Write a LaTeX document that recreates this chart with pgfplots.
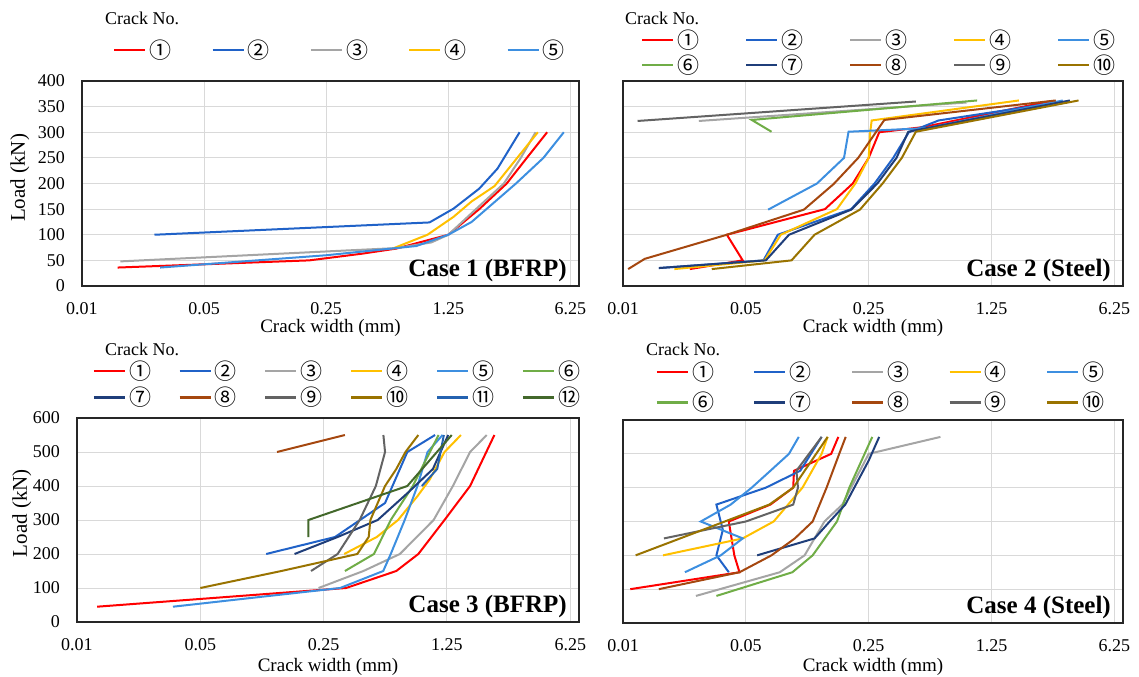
\documentclass[border=0pt]{standalone}
\usepackage{fontspec}
\setmainfont{Liberation Serif}
\newfontfamily\cjk{Noto Sans CJK SC}
\usepackage{pgfplots}
\pgfplotsset{compat=1.18}
\definecolor{c1}{HTML}{FF0000}
\definecolor{c2}{HTML}{2062C8}
\definecolor{c3}{HTML}{A5A5A5}
\definecolor{c4}{HTML}{FFC000}
\definecolor{c5}{HTML}{3D8FE0}
\definecolor{c6}{HTML}{70AD47}
\definecolor{c7}{HTML}{1F3E7A}
\definecolor{c8}{HTML}{A5470F}
\definecolor{c9}{HTML}{636363}
\definecolor{c10}{HTML}{997300}
\definecolor{c11}{HTML}{2462B0}
\definecolor{c12}{HTML}{43682B}
\definecolor{gridc}{HTML}{D9D9D9}
\newcommand\LE[1]{\makebox[22bp][l]{\rule[-2bp]{0pt}{19bp}#1}}
\pgfplotsset{
  mypanel/.style={
    scale only axis, anchor=south west,
    xmin=0.01, xmax=7,
    xtick={0.01,0.05,0.25,1.25,6.25}, xticklabels={0.01,0.05,0.25,1.25,6.25},
    /pgf/number format/assume math mode=true,
    grid=major, major grid style={draw=gridc, line width=1bp},
    axis line style={draw=black!85, line width=1.3bp},
    major tick length=0pt,
    tick label style={font=\fontsize{18bp}{20bp}\selectfont},
    xticklabel style={inner sep=0pt, anchor=north, yshift=-16bp},
    yticklabel style={inner sep=0pt, anchor=east, xshift=-17bp},
    xlabel={Crack width (mm)},
    legend cell align=left,
    legend image code/.code={\draw[##1, line width=2.6bp] (0bp,0bp) -- (31bp,0bp);},
    legend style={draw=none, fill=none, inner sep=0pt, outer sep=0pt, anchor=west,
      font=\cjk\fontsize{22bp}{24bp}\selectfont,
      nodes={inner sep=0pt}, cells={inner sep=0pt},
      /tikz/every odd column/.append style={column sep=3bp}},
    every axis plot/.append style={line width=2bp, no markers, sharp plot},
  },
}
\tikzset{caselab/.style={anchor=south east, inner sep=0pt, xshift=-12bp, yshift=4bp,
    font=\bfseries\fontsize{25bp}{27bp}\selectfont},
  cn/.style={anchor=west, inner sep=0pt, font=\fontsize{18bp}{20bp}\selectfont}}
\begin{document}
\begin{tikzpicture}
\useasboundingbox (0,0) rectangle (1139bp,677bp);
\node[cn] at (105bp,659bp) {Crack No.};
\node[cn] at (625bp,659bp) {Crack No.};
\node[cn] at (105bp,328bp) {Crack No.};
\node[cn] at (646bp,328bp) {Crack No.};

% ---------------- Panel 1
\begin{axis}[xmode=log, log basis x=5, mypanel, at={(82bp,391bp)}, width=497bp, height=205bp,
  ymin=0, ymax=400, ytick={0,50,...,400},
  ylabel={Load (kN)},
  ylabel style={font=\fontsize{21bp}{23bp}\selectfont, at={(axis description cs:-0.125,0.527)}, anchor=center},
  xlabel style={font=\fontsize{19bp}{21bp}\selectfont, at={(axis description cs:0.5,-0.205)}, anchor=center},
  legend columns=5,
  legend style={at={(axis description cs:0.0624,1.1512)},
    /tikz/every even column/.append style={column sep=39.7bp}},
]
\addplot[c1] coordinates {(0.016,36) (0.20,50) (0.40,63) (0.63,73) (1.25,100) (1.88,150) (2.70,200) (3.52,250) (4.60,300)};
\addlegendentry{\LE{①}}
\addplot[c2] coordinates {(0.026,100) (0.975,124) (1.34,151) (1.88,190) (2.39,229) (3.2,300)};
\addlegendentry{\LE{②}}
\addplot[c3] coordinates {(0.0166,48) (0.63,74) (1.0,85) (1.25,100) (1.8,150) (2.6,200) (3.25,250) (3.95,300)};
\addlegendentry{\LE{③}}
\addplot[c4] coordinates {(0.6,73) (0.95,100) (1.34,135) (1.7,165) (2.3,195) (3.1,250) (4.07,300)};
\addlegendentry{\LE{④}}
\addplot[c5] coordinates {(0.028,36) (0.25,60) (0.82,78) (1.25,100) (1.70,125) (3.05,200) (4.38,250) (5.73,300)};
\addlegendentry{\LE{⑤}}
\node[caselab] at (rel axis cs:1,0) {Case 1 (BFRP)};
\end{axis}

% ---------------- Panel 2
\begin{axis}[xmode=log, log basis x=5, mypanel, at={(623bp,391bp)}, width=500bp, height=205bp,
  ymin=0, ymax=400, ytick={0,50,...,400}, yticklabels={},
  xlabel style={font=\fontsize{19bp}{21bp}\selectfont, at={(axis description cs:0.5,-0.205)}, anchor=center},
  legend columns=5,
  legend style={at={(axis description cs:0.036,1.139)}, row sep=5bp,
    /tikz/every even column/.append style={column sep=45.4bp}},
]
\addplot[c1] coordinates {(0.024,33) (0.048,50) (0.039,100) (0.141,150) (0.203,200) (0.25,250) (0.287,300) (0.509,310) (2.65,360)};
\addlegendentry{\LE{①}}
\addplot[c2] coordinates {(0.016,35) (0.063,50) (0.076,100) (0.199,150) (0.27,200) (0.345,250) (0.423,300) (0.625,323) (3.18,360)};
\addlegendentry{\LE{②}}
\addplot[c3] coordinates {(0.027,322) (0.9,358)};
\addlegendentry{\LE{③}}
\addplot[c4] coordinates {(0.0196,33) (0.064,50) (0.079,100) (0.165,150) (0.21,200) (0.25,250) (0.255,300) (0.26,323) (1.79,362)};
\addlegendentry{\LE{④}}
\addplot[c5] coordinates {(0.067,149) (0.127,200) (0.181,250) (0.192,301) (0.53,308) (3.18,362)};
\addlegendentry{\LE{⑤}}
\addplot[c6] coordinates {(0.070,301) (0.054,324) (1.035,362)};
\addlegendentry{\LE{⑥}}
\addplot[c7] coordinates {(0.016,35) (0.065,50) (0.088,100) (0.199,149) (0.28,200) (0.36,250) (0.42,301) (3.49,362)};
\addlegendentry{\LE{⑦}}
\addplot[c8] coordinates {(0.0107,33) (0.0133,53) (0.039,100) (0.107,149) (0.158,199) (0.218,250) (0.307,324) (2.90,362)};
\addlegendentry{\LE{⑧}}
\addplot[c9] coordinates {(0.0121,322) (0.464,360)};
\addlegendentry{\LE{⑨}}
\addplot[c10] coordinates {(0.032,33) (0.091,50) (0.123,100) (0.223,149) (0.30,200) (0.386,250) (0.464,301) (3.91,362)};
\addlegendentry{\LE{⑩}}
\node[caselab] at (rel axis cs:1,0) {Case 2 (Steel)};
\end{axis}

% ---------------- Panel 3
\begin{axis}[xmode=log, log basis x=5, mypanel, at={(77bp,55bp)}, width=502bp, height=204bp,
  ymin=0, ymax=600, ytick={0,100,...,600},
  ylabel={Load (kN)},
  ylabel style={font=\fontsize{21bp}{23bp}\selectfont, at={(axis description cs:-0.11,0.534)}, anchor=center},
  xlabel style={font=\fontsize{19bp}{21bp}\selectfont, at={(axis description cs:0.5,-0.22)}, anchor=center},
  legend columns=6,
  legend style={at={(axis description cs:0.0309,1.1657)}, row sep=6bp,
    /tikz/every even column/.append style={column sep=27.2bp}},
]
\addplot[c1] coordinates {(0.013,45) (0.335,100) (0.645,150) (0.86,200) (1.21,300) (1.69,400) (2.32,550)};
\addlegendentry{\LE{①}}
\addplot[c2] coordinates {(0.118,200) (0.29,250) (0.557,350) (0.745,500) (1.07,550)};
\addlegendentry{\LE{②}}
\addplot[c3] coordinates {(0.234,100) (0.42,150) (0.676,200) (1.05,300) (1.35,400) (1.69,500) (2.10,550)};
\addlegendentry{\LE{③}}
\addplot[c4] coordinates {(0.327,200) (0.5,250) (0.66,300) (0.85,370) (1.0,420) (1.21,500) (1.50,550)};
\addlegendentry{\LE{④}}
\addplot[c5] coordinates {(0.035,45) (0.31,100) (0.544,150) (0.6,200) (0.72,300) (0.85,400) (0.97,500) (1.18,550)};
\addlegendentry{\LE{⑤}}
\addplot[c6] coordinates {(0.33,150) (0.482,200) (0.60,300) (0.8,400) (1.0,500) (1.12,550)};
\addlegendentry{\LE{⑥}}
\addplot[c7] coordinates {(0.171,200) (0.30,250) (0.506,300) (0.75,380) (1.04,450) (1.27,550)};
\addlegendentry{\LE{⑦}}
\addplot[c8] coordinates {(0.136,500) (0.33,550)};
\addlegendentry{\LE{⑧}}
\addplot[c9] coordinates {(0.212,150) (0.30,200) (0.40,300) (0.494,400) (0.557,500) (0.545,550)};
\addlegendentry{\LE{⑨}}
\addplot[c10] coordinates {(0.05,100) (0.144,150) (0.388,200) (0.45,250) (0.46,300) (0.557,400) (0.645,450) (0.727,500) (0.86,550)};
\addlegendentry{\LE{⑩}}
\addplot[c11] coordinates {(0.9,400) (1.1,450) (1.2,550)};
\addlegendentry{\LE{⑪}}
\addplot[c12] coordinates {(0.205,250) (0.205,300) (0.745,400) (1.33,550)};
\addlegendentry{\LE{⑫}}
\node[caselab] at (rel axis cs:1,0) {Case 3 (BFRP)};
\end{axis}

% ---------------- Panel 4
\begin{axis}[xmode=log, log basis x=5, mypanel, at={(623bp,54bp)}, width=500bp, height=203bp,
  ymin=0, ymax=600, ytick={0,100,...,600}, yticklabels={},
  xlabel style={font=\fontsize{19bp}{21bp}\selectfont, at={(axis description cs:0.5,-0.217)}, anchor=center},
  legend columns=5,
  legend style={at={(axis description cs:0.065,1.1616)}, row sep=10bp,
    /tikz/every even column/.append style={column sep=39bp}},
]
\addplot[c1] coordinates {(0.011,100) (0.046,150) (0.043,200) (0.040,300) (0.069,350) (0.093,400) (0.094,450) (0.153,500) (0.168,550)};
\addlegendentry{\LE{①}}
\addplot[c2] coordinates {(0.040,150) (0.034,200) (0.037,275) (0.034,350) (0.065,400) (0.102,450) (0.135,550)};
\addlegendentry{\LE{②}}
\addplot[c3] coordinates {(0.026,80) (0.078,150) (0.108,200) (0.14,300) (0.177,350) (0.25,500) (0.64,550)};
\addlegendentry{\LE{③}}
\addplot[c4] coordinates {(0.0169,200) (0.048,250) (0.072,300) (0.105,400) (0.135,500) (0.146,550)};
\addlegendentry{\LE{④}}
\addplot[c5] coordinates {(0.0225,150) (0.036,200) (0.048,250) (0.0277,300) (0.041,350) (0.054,400) (0.069,450) (0.088,500) (0.10,550)};
\addlegendentry{\LE{⑤}}
\addplot[c6] coordinates {(0.034,80) (0.092,150) (0.12,200) (0.165,300) (0.194,400) (0.262,550)};
\addlegendentry{\LE{⑥}}
\addplot[c7] coordinates {(0.058,200) (0.123,250) (0.15,300) (0.184,350) (0.25,480) (0.287,550)};
\addlegendentry{\LE{⑦}}
\addplot[c8] coordinates {(0.016,100) (0.046,150) (0.07,200) (0.095,250) (0.12,300) (0.144,400) (0.17,500) (0.185,550)};
\addlegendentry{\LE{⑧}}
\addplot[c9] coordinates {(0.0171,250) (0.05,300) (0.093,350) (0.099,400) (0.097,450) (0.135,550)};
\addlegendentry{\LE{⑨}}
\addplot[c10] coordinates {(0.0118,200) (0.068,350) (0.093,400) (0.146,550)};
\addlegendentry{\LE{⑩}}
\node[caselab] at (rel axis cs:1,0) {Case 4 (Steel)};
\end{axis}
\end{tikzpicture}
\end{document}
